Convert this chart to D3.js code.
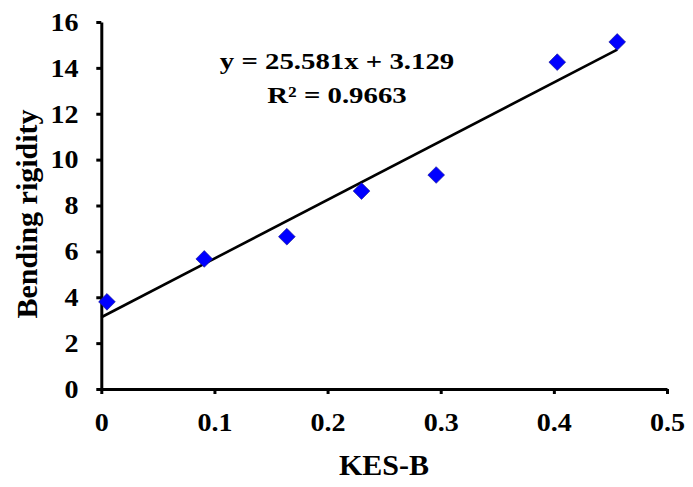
<!DOCTYPE html>
<html>
<head>
<meta charset="utf-8">
<script src="https://cdn.jsdelivr.net/npm/d3@7"></script>
<style>
  html, body { margin: 0; padding: 0; background: #fff; }
  svg text { font-family: "Liberation Serif", "Times New Roman", serif; font-weight: bold; fill: #000; }
</style>
</head>
<body>
<div id="chart"></div>
<script>
// valores
const kesB = [0.005, 0.091, 0.164, 0.230, 0.296, 0.403, 0.456];
const rigidity = [3.80, 5.67, 6.64, 8.63, 9.33, 14.25, 15.13];
const xTicks = [0, 0.1, 0.2, 0.3, 0.4, 0.5];
const yTicks = [0, 2, 4, 6, 8, 10, 12, 14, 16];
const slope = 25.581, intercept = 3.129;
const eqLines = ['y = 25.581x + 3.129', 'R² = 0.9663'];

const W = 693, H = 487;
const svg = d3.select('#chart').append('svg')
  .attr('width', W).attr('height', H);

const x = d3.scaleLinear().domain([0, 0.5]).range([101.3, 667]);
const y = d3.scaleLinear().domain([0, 16]).range([389, 22]);

// eixo x
const gx = svg.append('g')
  .attr('transform', `translate(0,${y(0)})`)
  .call(d3.axisBottom(x).tickValues(xTicks).tickSize(5).tickSizeOuter(0).tickPadding(19)
    .tickFormat(d => d === 0 ? '0' : d3.format('.1f')(d)));

// eixo y
const gy = svg.append('g')
  .attr('transform', `translate(${x(0)},0)`)
  .call(d3.axisLeft(y).tickValues(yTicks).tickSize(5).tickSizeOuter(0).tickPadding(16));

[gx, gy].forEach(g => {
  g.select('.domain').attr('stroke', '#000').attr('stroke-width', 3);
  g.selectAll('.tick line').attr('stroke', '#000').attr('stroke-width', 3);
  g.selectAll('.tick text')
    .attr('font-size', 26)
    .style('font-family', '"Liberation Serif", "Times New Roman", serif')
    .style('font-weight', 'bold')
    .attr('fill', '#000')
    .attr('transform', 'scale(1.08,1)');
});

// linha de tendência
svg.append('line')
  .attr('x1', x(0)).attr('y1', y(intercept))
  .attr('x2', x(d3.max(kesB))).attr('y2', y(slope * d3.max(kesB) + intercept))
  .attr('stroke', '#000').attr('stroke-width', 2.6);

// pontos (losangos)
svg.selectAll('path.pt')
  .data(kesB.map((k, i) => [k, rigidity[i]]))
  .join('path')
  .attr('class', 'pt')
  .attr('d', d3.symbol(d3.symbolSquare, 140)())
  .attr('transform', d => `translate(${x(d[0])},${y(d[1])}) rotate(45)`)
  .attr('fill', '#0000ff')
  .attr('stroke', '#1a1a8c')
  .attr('stroke-width', 0.6);

// equação
eqLines.forEach((t, i) => {
  svg.append('g')
    .attr('transform', `translate(337,${69 + i * 34}) scale(1.2,1)`)
    .append('text')
    .attr('text-anchor', 'middle')
    .attr('font-size', 24)
    .text(t);
});

// títulos dos eixos
svg.append('text')
  .attr('x', 384).attr('y', 475)
  .attr('text-anchor', 'middle')
  .attr('font-size', 30)
  .text('KES-B');

svg.append('text')
  .attr('transform', 'translate(37,214) rotate(-90)')
  .attr('text-anchor', 'middle')
  .attr('font-size', 30)
  .text('Bending rigidity');
</script>
</body>
</html>
